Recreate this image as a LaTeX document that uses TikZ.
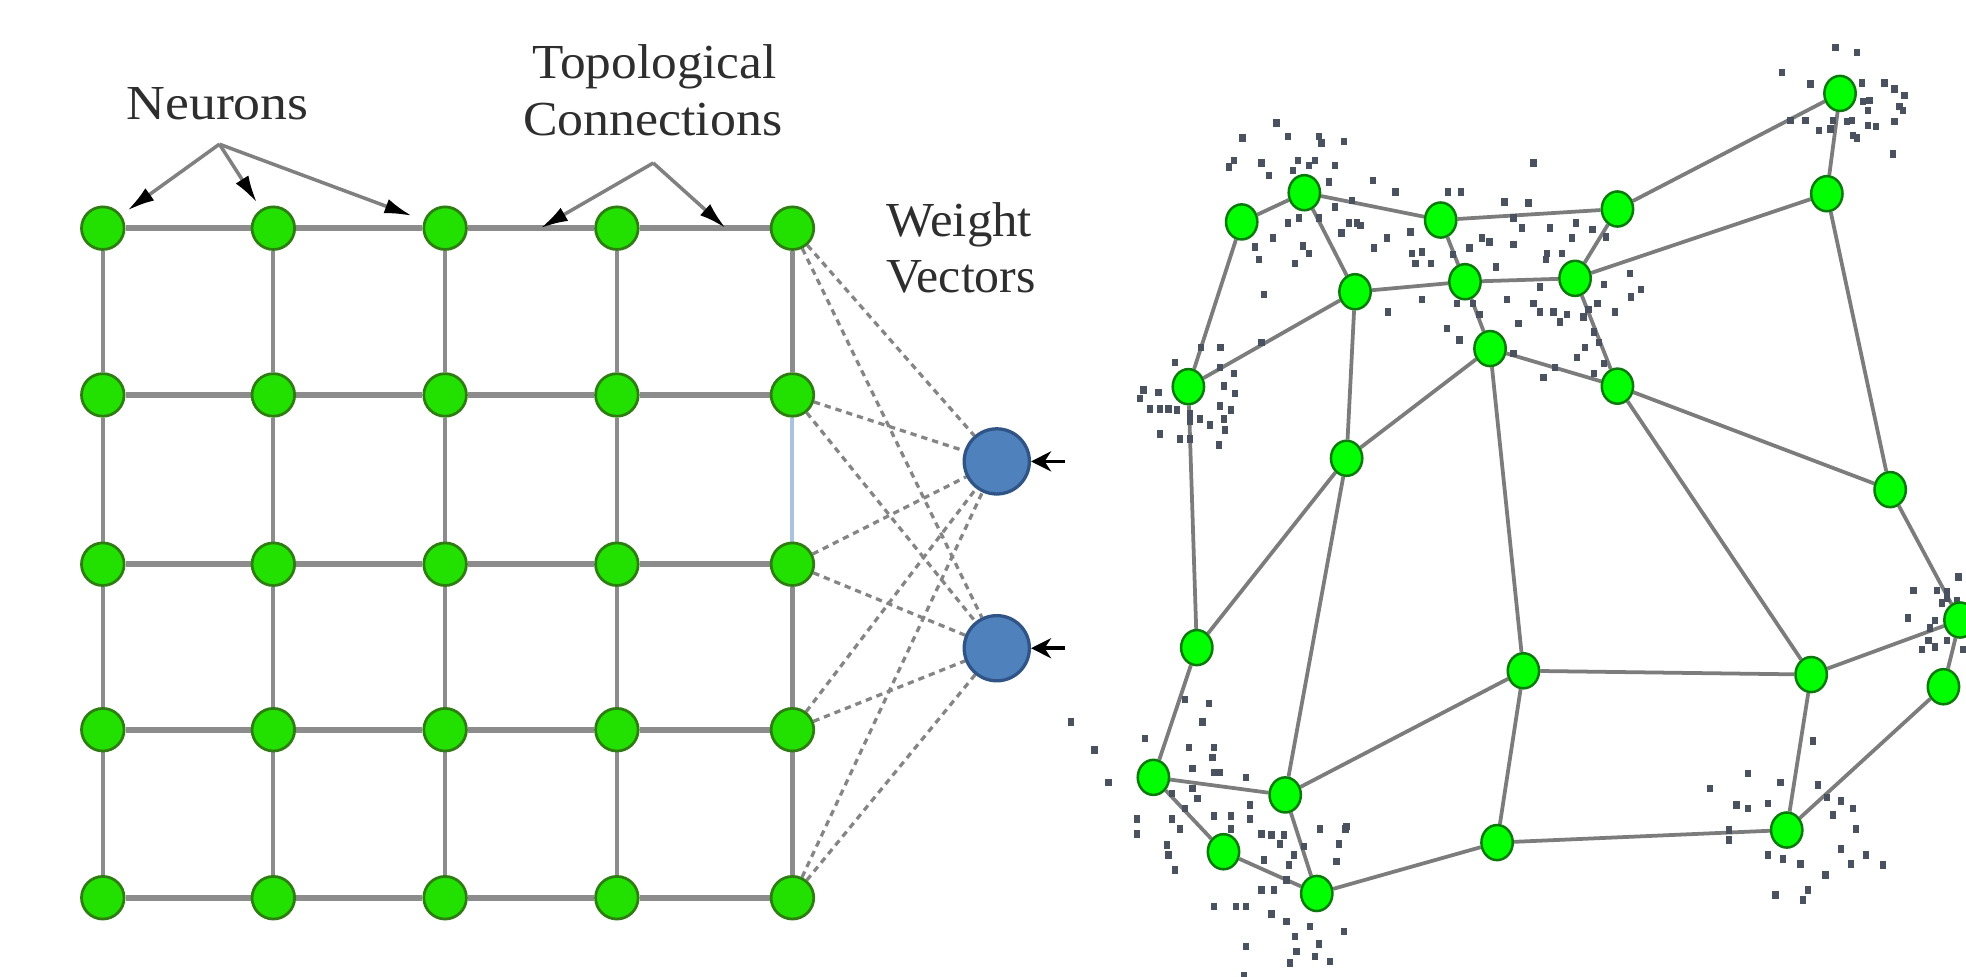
\documentclass[tikz,border=0pt]{standalone}
\usepackage{fontspec}
\setmainfont{Liberation Serif}
\usetikzlibrary{arrows.meta,shapes.geometric,calc}
\definecolor{gfill}{HTML}{22E000}
\definecolor{gborder}{HTML}{2E7D12}
\definecolor{sfill}{HTML}{00FF00}
\definecolor{sborder}{HTML}{0A7A0A}
\definecolor{bfill}{HTML}{4F81BD}
\definecolor{bborder}{HTML}{2F5485}
\definecolor{gline}{HTML}{8C8C8C}
\definecolor{eline}{HTML}{7C7C7C}
\definecolor{dcol}{HTML}{858585}
\definecolor{acol}{HTML}{808080}
\definecolor{tcol}{HTML}{2E2E2E}
\definecolor{dotc}{HTML}{4A5260}
\definecolor{lblue}{HTML}{A9C2E2}
\pgfdeclarelayer{back}
\pgfdeclarelayer{bg}
\pgfsetlayers{back,bg,main}
\begin{document}
\begin{tikzpicture}[x=0.5pt,y=-0.5pt,
  gnode/.style={circle,draw=gborder,fill=gfill,line width=1.1pt,minimum size=17pt,inner sep=0pt},
  snode/.style={ellipse,draw=sborder,fill=sfill,line width=1pt,minimum width=12.5pt,minimum height=14pt,inner sep=0pt},
  bnode/.style={circle,draw=bborder,fill=bfill,line width=1.3pt,minimum size=26pt,inner sep=0pt},
  hedge/.style={draw=gline,line width=2.4pt},
  vedge/.style={draw=gline,line width=1.7pt},
  wline/.style={draw=dcol,line width=1.3pt,dash pattern=on 2.5pt off 2pt},
  sedge/.style={draw=eline,line width=1.5pt},
  ann/.style={draw=acol,line width=1.4pt,-{Latex[length=11pt,width=6pt,black]},shorten >=3pt},
  inarr/.style={draw=black,line width=1.5pt,-{Stealth[length=8pt,width=8pt]}},
  lbl/.style={font=\fontsize{19.5}{23.5}\selectfont,text=tcol,inner sep=0pt,anchor=base}
]
\begin{pgfonlayer}{back}
\fill[white] (0,0) rectangle (1568,779);
\end{pgfonlayer}
\useasboundingbox (0,0) rectangle (1568,779);

% ---------- left grid ----------
\foreach \x [count=\i] in {82,218,355,492,632}{
  \foreach \y [count=\j] in {182,315,450,582,716}{
    \node[gnode] (g\j\i) at (\x,\y) {};
  }
}
\begin{pgfonlayer}{bg}
\foreach \j in {1,...,5}{
  \foreach \i [evaluate=\i as \k using int(\i+1)] in {1,...,4}{
    \draw[hedge] (g\j\i) -- (g\j\k);
  }
}
\foreach \i in {1,...,5}{
  \foreach \j [evaluate=\j as \k using int(\j+1)] in {1,...,4}{
    \ifnum\i=5 \ifnum\j=2 \else \draw[vedge] (g\j\i) -- (g\k\i); \fi
    \else \draw[vedge] (g\j\i) -- (g\k\i); \fi
  }
}
\draw[draw=lblue,line width=1.6pt] (g25) -- (g35);
\end{pgfonlayer}

% weight vector nodes
\node[bnode] (b1) at (795,368) {};
\node[bnode] (b2) at (795,517) {};
\coordinate (ia1) at (849,368);
\coordinate (ia2) at (849,517);
\draw[inarr] (ia1) -- (b1);
\draw[inarr] (ia2) -- (b2);
\begin{pgfonlayer}{bg}
\foreach \j in {1,...,5}{
  \draw[wline] (g\j5) -- (b1);
  \draw[wline] (g\j5) -- (b2);
}
\end{pgfonlayer}

% labels
\node[lbl,xscale=1.1] (neu) at (173.5,95.7) {Neurons};
\node[lbl,xscale=1.05] (topo1) at (522,62.5) {Topological};
\node[lbl,xscale=1.06] (topo2) at (520.5,107.7) {Connections};
\node[lbl,xscale=1.04] (wv1) at (765,189) {Weight};
\node[lbl,xscale=1.02] (wv2) at (766.5,233) {Vectors};

\coordinate (na) at (175,115);
\coordinate (ta) at (521,130);
\coordinate (tc1) at ($(g13)!0.555!(g14)$);
\coordinate (tc2) at ($(g14)!0.62!(g15)$);
\draw[ann] (na) -- (g11);
\draw[ann] (na) -- (g12);
\draw[ann,shorten >=5pt] (na) -- (g13);
\draw[ann,shorten >=0pt] (ta) -- (tc1);
\draw[ann,shorten >=0pt] (ta) -- (tc2);

% ---------- right map ----------
\foreach \n/\x/\y in {1/1467.5/74.5, 2/1457/154.5, 3/1040.3/153.7, 4/990.3/177,
  5/1149/175.5, 6/1290/166.7, 7/1080.7/232.7, 8/1168.4/224.7, 9/1256.2/222,
  10/1188.4/278, 11/1290/308, 12/947.8/308.4, 13/1074/365.5, 14/1507.5/390.5,
  15/954.5/516.5, 16/1563.2/494.5, 17/1215/535, 18/1444.5/538, 19/1550/547.7,
  20/919.9/620, 21/1025/634, 22/1194/672, 23/1425/662, 24/975.8/679.3, 25/1050.2/712.6}{
  \node[snode] (n\n) at (\x,\y) {};
}
\begin{pgfonlayer}{bg}
\foreach \a/\b in {1/6,6/5,5/3,3/4, 2/9,9/8,8/7,7/12, 14/11,11/10,10/13,13/15,
  16/18,18/17,17/21,21/20, 19/23,23/22,22/25,25/24,
  1/2,2/14,14/16,16/19, 6/9,9/11,11/18,18/23, 5/8,8/10,10/17,17/22,
  3/7,7/13,13/21,21/25, 4/12,12/15,15/20,20/24}{
  \draw[sedge] (n\a) -- (n\b);
}
% data points
\foreach \x/\y in {
 1464/38,1481/42,1444/67,1485/66,1503/66,1511/71,1519/76,1491/80,1490/88,1486/81,
 1428/96,1440/96,1451/104,1460/103,1477/96,1490/100,1496/101,1478/108,1481/110,
 1511/97,1515/85,1518/88,1510/123,1421/58,1473/97,1462/96,
 1018/98,991/110,1027/109,1052/109,1054/114,1072/113,984/128,980/133,1006/130,
 1012/140,1035/128,1044/132,1049/128,1065/132,1031/136,1060/145,1095/144,1113/153,
 1078/160,1065/165,1052/174,1036/174,1027/178,1076/178,1082/178,1070/186,1001/197,
 1015/190,1039/196,1044/202,1033/210,1004/207,1085/180,1106/190,1096/198,1125/185,
 1126/202,1134/201,1141/210,1129/210,1008/235,1107/249,1134/239,1154/262,973/277,1006/273,
 1223/130,1200/161,1219/162,1165/153,1155/153,1214/182,1207/174,1257/178,1270/183,
 1236/182,1234/202,1233/207,1246/202,1254/190,1281/189,1159/203,1172/198,1182/190,
 1188/193,1207/195,1193/213,1202/239,1223/242,1228/249,1239/249,1244/257,1228/229,
 1211/258,1250/251,1263/253,1267/247,1274/242,1279/227,1288/249,1301/237,1309/231,
 1300/218,1180/251,1175/242,1162/242,1164/271,1207/282,1271/265,1275/273,
 1264/277,1258/285,1240/293,1231/301,1279/290,1271/298,
 937/289,958/277,974/277,973/293,984/298,912/311,924/313,909/318,917/326,925/326,
 932/326,939/327,976/308,985/314,973/324,982/327,957/334,965/339,976/334,977/343,
 925/346,941/350,949/350,972/355,949/330,949/336,
 1562/460,1545/471,1526/471,1522/493,1553/477,1549/481,1561/479,1543/495,1539/501,
 1538/511,1543/516,1533/518,1553/511,1566/518,1553/472,
 854/576,873/598,884/624,913/589,945/558,964/561,959/576,948/596,968/596,967/604,
 951/613,968/616,973/616,994/620,951/629,955/637,935/633,945/645,935/653,941/661,
 907/653,907/665,931/674,932/682,937/694,968/651,982/651,982/661,997/653,1006/665,
 1014/666,1024/666,997/642,1008/686,1021/673,1032/682,1028/690,1026/702,1040/675,
 1053/661,1068/673,1066/687,1073/661,1006/710,1016/710,968/723,986/723,994/723,
 1014/729,1026/735,1045/739,1033/747,1052/753,1034/759,1049/763,1061/767,1029/768,
 994/755,1072/743,1074/659,992/778,
 1394/617,1446/591,1364/629,1385/642,1420/624,1450/626,1394/645,1410/641,1457/636,
 1468/639,1478/645,1462/650,1480/661,1379/662,1379/670,1410/682,1422/685,1436/689,
 1468/677,1488/682,1476/689,1502/690,1456/698,1442/710,1416/714,1438/718}{
  \fill[dotc] (\x-2.5,\y-3) rectangle ++(5,6);
}
\end{pgfonlayer}
\end{tikzpicture}
\end{document}
